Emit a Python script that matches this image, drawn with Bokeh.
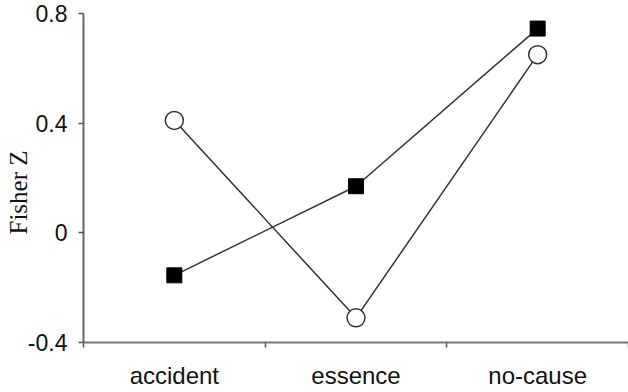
from bokeh.plotting import figure
from bokeh.models import FixedTicker, Range1d, Title
from bokeh.embed import file_html
from bokeh.resources import INLINE

categories = ["accident", "essence", "no-cause"]
series_circle = [0.41, -0.31, 0.65]
series_square = [-0.155, 0.17, 0.745]
y_ticks = [-0.4, 0.0, 0.4, 0.8]
y_tick_labels = ["-0.4", "0", "0.4", "0.8"]
y_title = "Fisher Z"

xs = list(range(1, len(categories) + 1))

H = 391
p = figure(width=628, height=H, output_backend="svg", toolbar_location=None,
           x_range=Range1d(0.5, len(categories) + 0.5), y_range=Range1d(-0.4, 0.8),
           min_border_left=83, min_border_right=0, min_border_top=13, min_border_bottom=48)
p.outline_line_color = None
p.grid.visible = False
p.background_fill_color = "white"

p.line(xs, series_circle, line_color="#333333", line_width=1.5)
p.line(xs, series_square, line_color="#333333", line_width=1.5)
p.scatter(xs, series_circle, marker="circle", size=18, fill_color="white",
          line_color="#333333", line_width=1.5)
p.scatter(xs, series_square, marker="square", size=15, fill_color="black",
          line_color="black", line_width=1)

# x axis
xa = p.xaxis[0]
xa.ticker = FixedTicker(ticks=xs, minor_ticks=[x - 0.5 for x in xs] + [xs[-1] + 0.5])
xa.major_label_overrides = {x: c for x, c in zip(xs, categories)}
xa.major_tick_line_color = None
xa.minor_tick_line_color = "#555555"
xa.minor_tick_line_width = 1.5
xa.minor_tick_out = 5
xa.minor_tick_in = 0
xa.axis_line_color = "#777777"
xa.axis_line_width = 2
xa.major_label_text_font = "Liberation Sans"
xa.major_label_text_font_size = "24px"
xa.major_label_text_color = "#111111"
xa.major_label_standoff = 13

# y axis
ya = p.yaxis[0]
ya.ticker = FixedTicker(ticks=y_ticks, minor_ticks=[])
ya.major_label_overrides = {t: l for t, l in zip(y_ticks, y_tick_labels)}
ya.major_tick_line_color = "#555555"
ya.major_tick_line_width = 1.5
ya.major_tick_out = 5
ya.major_tick_in = 0
ya.axis_line_color = "#666666"
ya.axis_line_width = 2
ya.major_label_text_font = "Liberation Sans"
ya.major_label_text_font_size = "23px"
ya.major_label_text_color = "#111111"
ya.major_label_standoff = 11

t = Title(text=y_title, align="left", offset=108, standoff=-14,
          text_font="Liberation Serif", text_font_style="normal",
          text_font_size="25px", text_color="#111111")
p.add_layout(t, "left")

open("out.html", "w").write(file_html(p, INLINE))
